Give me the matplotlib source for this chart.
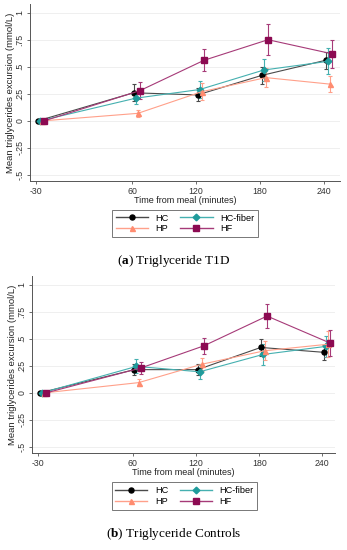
import matplotlib
matplotlib.use('Agg')
import matplotlib.pyplot as plt
from matplotlib.lines import Line2D
import numpy as np

plt.rcParams['font.family'] = ['Liberation Sans', 'DejaVu Sans']
plt.rcParams['mathtext.fontset'] = 'custom'
plt.rcParams['mathtext.bf'] = 'Liberation Serif:bold'
plt.rcParams['mathtext.rm'] = 'Liberation Serif'

# data
times = [-30, 60, 120, 180, 240]
groups = ['HC', 'HC-fiber', 'HP', 'HF']

t1d_mean = {
    'HC': [0, 0.26, 0.24, 0.42, 0.56],
    'HC-fiber': [0, 0.21, 0.29, 0.47, 0.55],
    'HP': [0, 0.07, 0.27, 0.40, 0.34],
    'HF': [0, 0.28, 0.56, 0.75, 0.62],
}
t1d_err = {
    'HC': [0, 0.08, 0.06, 0.08, 0.08],
    'HC-fiber': [0, 0.05, 0.08, 0.10, 0.12],
    'HP': [0, 0.03, 0.08, 0.09, 0.075],
    'HF': [0, 0.08, 0.10, 0.145, 0.13],
}
ctrl_mean = {
    'HC': [0, 0.215, 0.215, 0.42, 0.375],
    'HC-fiber': [0, 0.245, 0.195, 0.355, 0.43],
    'HP': [0, 0.095, 0.265, 0.39, 0.45],
    'HF': [0, 0.23, 0.435, 0.71, 0.46],
}
ctrl_err = {
    'HC': [0, 0.05, 0.05, 0.08, 0.07],
    'HC-fiber': [0, 0.065, 0.065, 0.10, 0.10],
    'HP': [0, 0.035, 0.06, 0.09, 0.12],
    'HF': [0, 0.055, 0.075, 0.11, 0.12],
}

yticks = [-0.5, -0.25, 0, 0.25, 0.5, 0.75, 1]
ytick_labels = ['-.5', '-.25', '0', '.25', '.5', '.75', '1']

line_col = {'HC': '#4a4a4a', 'HC-fiber': '#45b0b0', 'HP': '#ffa08a', 'HF': '#a63a78'}
mark_col = {'HC': '#000000', 'HC-fiber': '#1f9b9b', 'HP': '#ff8c70', 'HF': '#8c0a52'}
markers = {'HC': 'o', 'HC-fiber': 'D', 'HP': '^', 'HF': 's'}
msize = {'HC': 3.6, 'HC-fiber': 3.4, 'HP': 3.6, 'HF': 4.0}
dodge = {'HC': 1.5, 'HC-fiber': 3.5, 'HP': 5.5, 'HF': 7.5}


def draw_panel(ax, means, errs, xlim):
    for g in groups:
        x = np.array(times) + dodge[g]
        ax.errorbar(x, means[g], yerr=errs[g], color=line_col[g], lw=0.8,
                    elinewidth=0.8, capsize=1.6, capthick=0.8, marker=markers[g],
                    ms=msize[g], mfc=mark_col[g], mec=mark_col[g], zorder=3)
    ax.set_xlim(*xlim)
    ax.set_ylim(-0.555, 1.08)
    ax.set_xticks(times)
    ax.set_xticklabels([str(t) for t in times], fontsize=6.3)
    ax.set_yticks(yticks)
    ax.set_yticklabels(ytick_labels, fontsize=6.3, rotation=90, va='center')
    ax.grid(axis='y', color='#ececec', lw=0.6)
    ax.set_axisbelow(True)
    for s in ['top', 'right']:
        ax.spines[s].set_visible(False)
    for s in ['left', 'bottom']:
        ax.spines[s].set_color('#555555')
        ax.spines[s].set_linewidth(0.7)
    ax.tick_params(length=2.5, width=0.6, color='#555555', pad=1.5, labelcolor='#333333')
    ax.set_xlabel('Time from meal (minutes)', fontsize=6.5, labelpad=0, color='#222222')
    ax.set_ylabel('Mean triglycerides excursion (mmol/L)', fontsize=6.8, labelpad=0.5, color='#222222')


fig = plt.figure(figsize=(3.47, 5.5), dpi=100)

ax1 = fig.add_axes([30 / 347, 1 - 181 / 550, 310 / 347, 177 / 550])
draw_panel(ax1, t1d_mean, t1d_err, (-35.6, 255))
ax2 = fig.add_axes([32 / 347, 1 - 453 / 550, 303 / 347, 177 / 550])
draw_panel(ax2, ctrl_mean, ctrl_err, (-35.7, 252))

handles = []
for g in ['HC', 'HP', 'HC-fiber', 'HF']:
    handles.append(Line2D([], [], color=line_col[g], lw=1.0, marker=markers[g],
                          ms=msize[g], mfc=mark_col[g], mec=mark_col[g], label=g))

for ax, (x0, y0, x1, y1) in [(ax1, (112, 208, 258, 239)), (ax2, (113, 482, 256, 510))]:
    leg = fig.legend(handles=handles, ncol=2, fontsize=6.6,
                     loc='center', bbox_to_anchor=((x0 + x1) / 2 / 347, 1 - (y0 + y1) / 2 / 550),
                     frameon=True, fancybox=False, handlelength=3.5, columnspacing=1.3,
                     handletextpad=0.8, labelspacing=0.2, borderpad=0.4)
    leg.get_frame().set_edgecolor('#555555')
    leg.get_frame().set_linewidth(0.7)

fig.text(0.5, 1 - 261 / 550, r'($\mathbf{a}$) Triglyceride T1D', ha='center', va='center',
         fontsize=9.5, family='Liberation Serif')
fig.text(0.5, 1 - 534 / 550, r'($\mathbf{b}$) Triglyceride Controls', ha='center', va='center',
         fontsize=9.5, family='Liberation Serif')

fig.savefig('out.png', dpi=100)
